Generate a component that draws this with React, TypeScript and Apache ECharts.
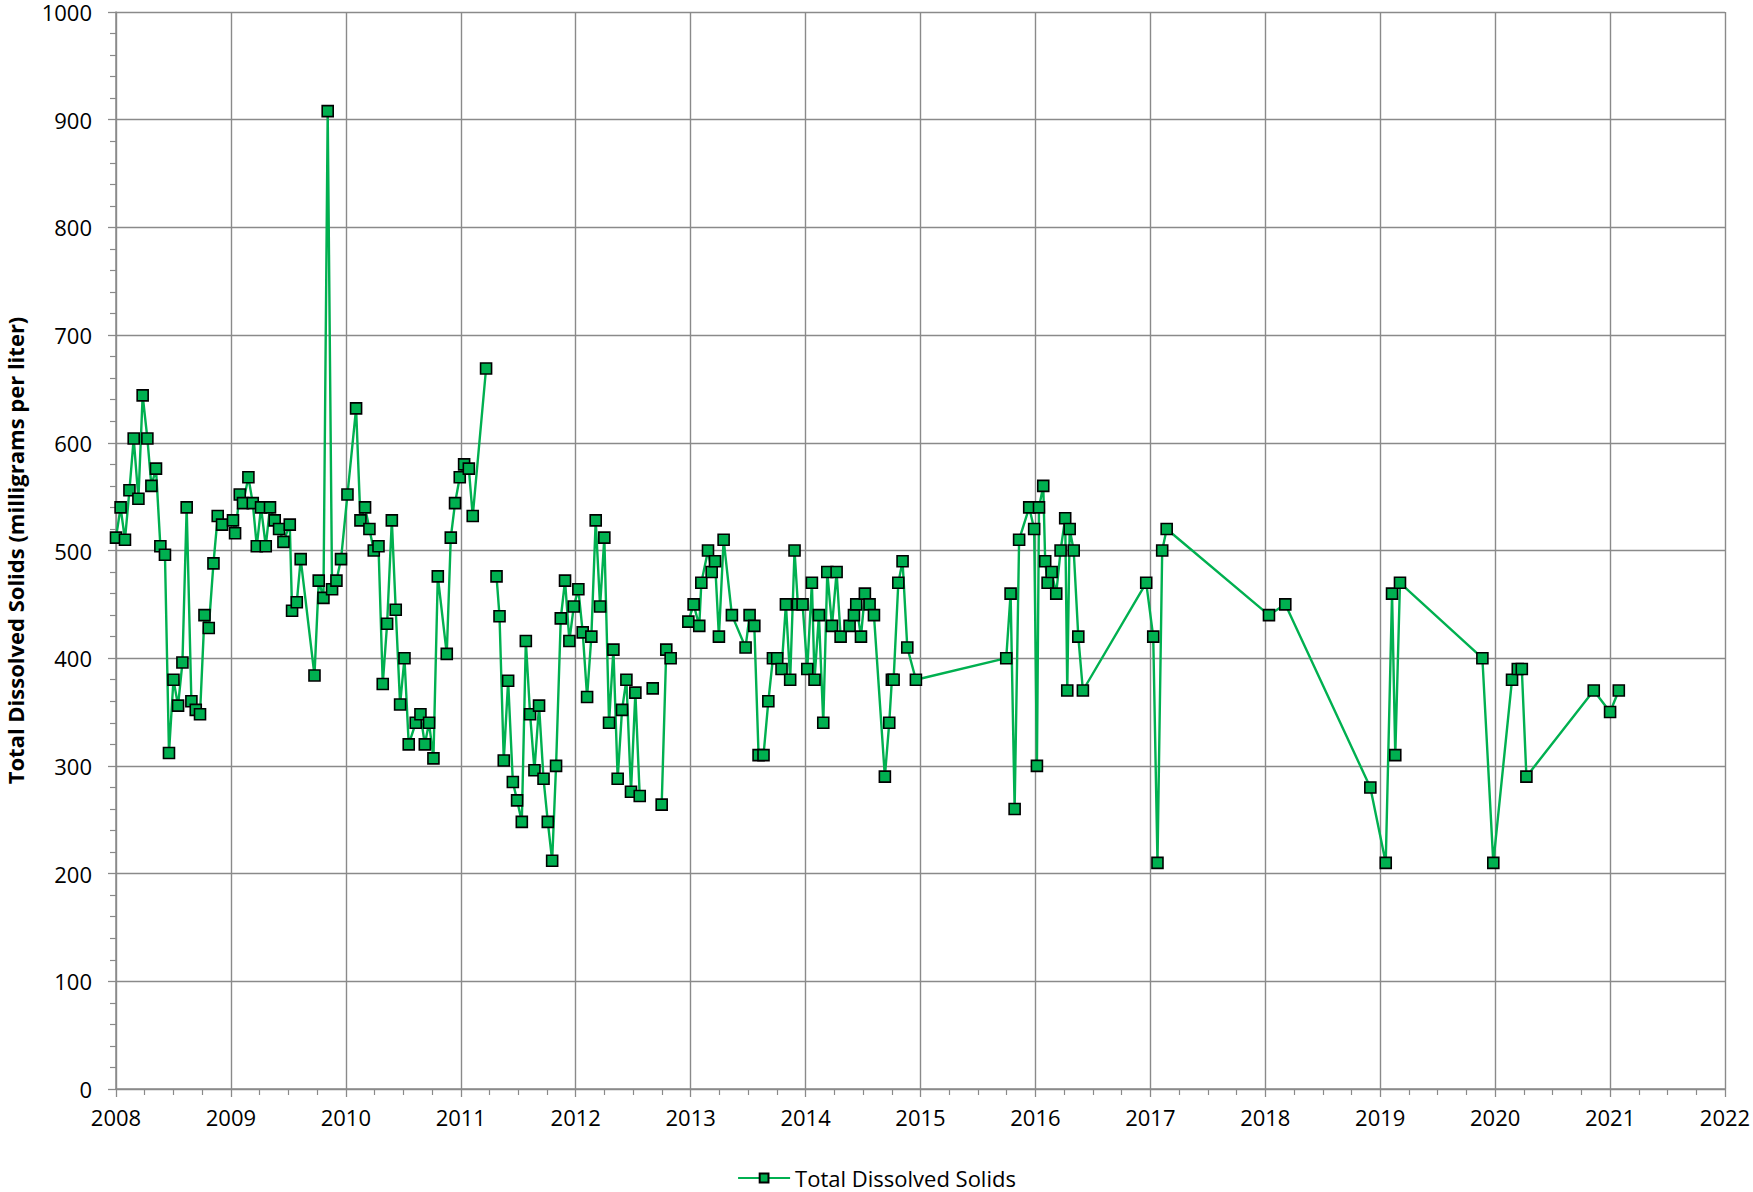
import React, { useEffect, useRef } from "react";
import * as echarts from "echarts";

// Sample dates (decimal years) and Total Dissolved Solids values (mg/L); null = gap in the line
const dates: number[] = [
  2008.000, 2008.040, 2008.078, 2008.117, 2008.154, 2008.195, 2008.232, 2008.273, 2008.308, 2008.348,
  2008.386, 2008.426, 2008.461, 2008.500, 2008.540, 2008.578, 2008.615, 2008.656, 2008.694, 2008.731,
  2008.770, 2008.807, 2008.848, 2008.885, 2008.923, 2009.018, 2009.036, 2009.077, 2009.105, 2009.152,
  2009.190, 2009.225, 2009.262, 2009.303, 2009.340, 2009.381, 2009.419, 2009.457, 2009.512, 2009.532,
  2009.573, 2009.607, 2009.727, 2009.764, 2009.805, 2009.842, 2009.880, 2009.918, 2009.958, 2010.014,
  2010.089, 2010.127, 2010.167, 2010.205, 2010.243, 2010.284, 2010.321, 2010.359, 2010.400, 2010.434,
  2010.472, 2010.510, 2010.547, 2010.608, 2010.649, 2010.687, 2010.724, 2010.762, 2010.800, 2010.878,
  2010.913, 2010.950, 2010.991, 2011.029, 2011.070, 2011.104, 2011.220, 2011.265, 2011.311, 2011.337,
  2011.374, 2011.412, 2011.453, 2011.490, 2011.531, 2011.566, 2011.603, 2011.641, 2011.681, 2011.720,
  2011.757, 2011.795, 2011.829, 2011.870, 2011.907, 2011.945, 2011.983, 2012.023, 2012.061, 2012.099,
  2012.136, 2012.174, 2012.212, 2012.249, 2012.290, 2012.328, 2012.365, 2012.403, 2012.441, 2012.481,
  2012.519, 2012.557, 2012.610, 2012.670, 2012.710, 2012.748, 2012.788, 2012.826, 2012.900, 2012.980,
  2013.026, 2013.075, 2013.093, 2013.151, 2013.183, 2013.212, 2013.246, 2013.287, 2013.359, 2013.478,
  2013.513, 2013.554, 2013.591, 2013.634, 2013.676, 2013.716, 2013.753, 2013.791, 2013.829, 2013.866,
  2013.904, 2013.933, 2013.974, 2014.015, 2014.055, 2014.078, 2014.116, 2014.154, 2014.189, 2014.230,
  2014.270, 2014.305, 2014.383, 2014.421, 2014.441, 2014.482, 2014.516, 2014.557, 2014.595, 2014.690,
  2014.728, 2014.751, 2014.766, 2014.807, 2014.844, 2014.885, 2014.960, 2015.746, 2015.784, 2015.819,
  2015.858, 2015.946, 2015.989, 2016.013, 2016.031, 2016.068, 2016.085, 2016.106, 2016.141, 2016.181,
  2016.219, 2016.259, 2016.277, 2016.298, 2016.333, 2016.373, 2016.413, 2016.964, 2017.025, 2017.062,
  2017.103, 2017.142, 2018.032, 2018.174, 2018.914, 2019.048, 2019.103, 2019.131, 2019.172, 2019.889,
  2019.984, 2020.147, 2020.197, 2020.232, 2020.272, 2020.858, 2021.000, 2021.076,
];

const values: (number | null)[] = [
  512, 540, 510, 556, 604, 548, 644, 604, 560, 576,
  504, 496, 312, 380, 356, 396, 540, 360, 352, 348,
  440, 428, 488, 532, 524, 528, 516, 552, 544, 568,
  544, 504, 540, 504, 540, 528, 520, 508, 524, 444,
  452, 492, 384, 472, 456, 908, 464, 472, 492, 552,
  632, 528, 540, 520, 500, 504, 376, 432, 528, 445,
  357, 400, 320, 340, 348, 320, 340, 307, 476, 404,
  512, 544, 568, 580, 576, 532, 669, null, 476, 439,
  305, 379, 285, 268, 248, 416, 348, 296, 356, 288,
  248, 212, 300, 437, 472, 416, 448, 464, 424, 364,
  420, 528, 448, 512, 340, 408, 288, 352, 380, 276,
  368, 272, null, 372, null, 264, 408, 400, null, 434,
  450, 430, 470, 500, 480, 490, 420, 510, 440, 410,
  440, 430, 310, 310, 360, 400, 400, 390, 450, 380,
  500, 450, 450, 390, 470, 380, 440, 340, 480, 430,
  480, 420, 430, 440, 450, 420, 460, 450, 440, 290,
  340, 380, 380, 470, 490, 410, 380, 400, 460, 260,
  510, 540, 520, 300, 540, 560, 490, 470, 480, 460,
  500, 530, 370, 520, 500, 420, 370, 470, 420, 210,
  500, 520, 440, 450, 280, 210, 460, 310, 470, 400,
  210, 380, 390, 390, 290, 370, 350, 370,
];

const seriesName = "Total Dissolved Solids";
const yAxisTitle = "Total Dissolved Solids (milligrams per liter)";
const xMin = 2008;
const xMax = 2022;
const yMin = 0;
const yMax = 1000;

const GREEN = "#00b050";
const GRID = "#8a8a8a";
const FONT = "'Open Sans', 'Noto Sans', sans-serif";

export default function App() {
  const ref = useRef<HTMLDivElement>(null);

  useEffect(() => {
    if (!ref.current) return;
    const chart = echarts.init(ref.current, undefined, { renderer: "svg" });
    const data = dates.map((d, i) => [d, values[i] === null ? "-" : values[i]]);
    chart.setOption({
      animation: false,
      backgroundColor: "#ffffff",
      grid: {
        left: 116,
        right: 28,
        top: 12,
        bottom: 103,
        containLabel: false,
        outerBoundsMode: "none",
      },
      legend: {
        data: [seriesName],
        top: 1162,
        left: "center",
        itemWidth: 52,
        itemHeight: 11,
        itemGap: 6,
        textStyle: { fontFamily: FONT, fontSize: 22, color: "#000" },
      },
      xAxis: {
        type: "value",
        min: xMin,
        max: xMax,
        interval: 1,
        axisLine: { show: true, lineStyle: { color: GRID, width: 1.5 } },
        axisTick: { show: true, length: 8, lineStyle: { color: GRID, width: 1.3 } },
        minorTick: { show: true, splitNumber: 4, length: 6, lineStyle: { color: GRID, width: 1.2 } },
        splitLine: { show: true, lineStyle: { color: GRID, width: 1.4 } },
        axisLabel: {
          fontFamily: FONT,
          fontSize: 22,
          color: "#000",
          margin: 17,
          formatter: (v: number) => String(v),
        },
      },
      yAxis: {
        type: "value",
        min: yMin,
        max: yMax,
        interval: 100,
        name: yAxisTitle,
        nameLocation: "middle",
        nameGap: 90,
        nameTextStyle: { fontFamily: FONT, fontSize: 22, fontWeight: "bold", color: "#000" },
        axisLine: { show: true, lineStyle: { color: GRID, width: 1.5 } },
        axisTick: { show: true, length: 8, lineStyle: { color: GRID, width: 1.3 } },
        minorTick: { show: true, splitNumber: 5, length: 6, lineStyle: { color: GRID, width: 1.2 } },
        splitLine: { show: true, lineStyle: { color: GRID, width: 1.4 } },
        axisLabel: {
          fontFamily: FONT,
          fontSize: 22,
          color: "#000",
          margin: 24,
          formatter: (v: number) => String(v),
        },
      },
      series: [
        {
          name: seriesName,
          type: "line",
          data,
          connectNulls: false,
          symbol: "rect",
          symbolSize: 11,
          showAllSymbol: true,
          lineStyle: { color: GREEN, width: 2.4 },
          itemStyle: { color: GREEN, borderColor: "#000", borderWidth: 1.6 },
        },
      ],
    });
    return () => chart.dispose();
  }, []);

  return (
    <div
      ref={ref}
      style={{ position: "absolute", left: 0, top: 0, width: 1753, height: 1192, background: "#fff" }}
    />
  );
}
